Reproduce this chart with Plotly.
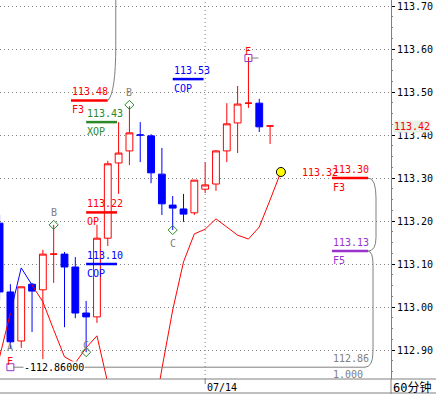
import plotly.graph_objects as go

# ---------------- data ----------------
candle_idx = list(range(26))
opens = [113.195, 113.035, 112.921, 113.053, 113.040, 113.123, 113.123, 113.093, 112.986, 112.977,
         113.160, 113.335, 113.363, 113.400, 113.398, 113.309, 113.237, 113.228, 113.219, 113.274,
         113.286, 113.363, 113.428, 113.474, 113.474, 113.421]
highs = [113.214, 113.053, 113.047, 113.056, 113.133, 113.191, 113.128, 113.116, 113.014, 113.191,
         113.340, 113.430, 113.467, 113.430, 113.402, 113.370, 113.258, 113.263, 113.295, 113.337,
         113.365, 113.474, 113.514, 113.581, 113.484, 113.421]
lows = [113.016, 112.905, 112.905, 112.942, 112.879, 113.056, 112.953, 112.974, 112.895, 112.963,
        113.142, 113.263, 113.330, 113.337, 113.288, 113.214, 113.179, 113.198, 113.214, 113.265,
        113.270, 113.337, 113.358, 113.463, 113.407, 113.379]
closes = [113.035, 112.919, 113.047, 113.037, 113.123, 113.123, 113.093, 112.986, 112.977, 113.160,
          113.333, 113.358, 113.405, 113.400, 113.312, 113.240, 113.230, 113.216, 113.295, 113.284,
          113.363, 113.426, 113.472, 113.474, 113.419, 113.421]
candle_dir = ["dn", "dn", "up", "dn", "up", "up", "dn", "dn", "dn", "up",
              "up", "up", "up", "dn", "dn", "dn", "dn", "dn", "up", "up",
              "up", "up", "up", "up", "dn", "up"]

line_idx = list(range(27))
line_vals = [112.884, 112.986, 113.091, 113.051, 113.012, 112.947, 112.884, 112.870, 112.905, 112.933,
             112.823, 112.760, 112.714, 112.691, 112.709, 112.856, 112.993, 113.105, 113.170, 113.181,
             113.205, 113.186, 113.167, 113.158, 113.186, 113.249, 113.314]
line_blue_from, line_blue_to = 1, 3

level_vals = [113.48, 113.43, 113.53, 113.22, 113.10, 113.30, 113.13]
level_names = ["F3", "XOP", "COP", "OP", "COP", "F3", "F5"]

pivot_names = ["A", "B", "C", "B", "C"]
pivot_idx = [1, 5, 8, 12, 16]
pivot_prices = [112.905, 113.191, 112.895, 113.470, 113.179]

f_idx = [1, 23]
f_prices = [112.86, 113.579]
f_text = "112.86000"

last_price = 113.42
proj_label = "113.32"
base_label = "112.86"
ratio_label = "1.000"
date_label = "07/14"
date_idx = 19
period_label = "60分钟"

y_ticks = [112.90, 113.00, 113.10, 113.20, 113.30, 113.40, 113.50, 113.60, 113.70]

# ---------------- styles / geometry ----------------
RED = "#ff0000"
BLUE = "#0000ff"
GREEN = "#2a8a2a"
PURPLE = "#9933cc"
GREY = "#808080"
FONT = "DejaVu Sans Mono"

PX_X = 10.82   # px per candle
PX_Y = 430.0   # px per price unit


def X(i, px=0.0):
    return i + px / PX_X


def Y(p, px=0.0):
    return p - px / PX_Y   # px > 0 moves down


x_range = [X(1, -10.4), X(1, 391 - 10.4)]
y_range = [Y(113.70, 373), Y(113.70, -6)]

level_style = [
    dict(color=RED, x0=X(6.6), x1=X(10.0)),
    dict(color=GREEN, x0=X(8.0), x1=X(10.85)),
    dict(color=BLUE, x0=X(16.0), x1=X(18.85)),
    dict(color=RED, x0=X(8.0), x1=X(10.85)),
    dict(color=BLUE, x0=X(8.0), x1=X(10.85)),
    dict(color=RED, x0=X(30.72), x1=X(34.05)),
    dict(color=PURPLE, x0=X(30.72), x1=X(34.05)),
]

fig = go.Figure()


def sub(lst, ids):
    return [lst[i] for i in ids]


for d, col, fill in [("up", RED, "white"), ("dn", BLUE, BLUE)]:
    ids = [i for i, v in enumerate(candle_dir) if v == d]
    fig.add_trace(go.Candlestick(
        x=sub(candle_idx, ids), open=sub(opens, ids), high=sub(highs, ids),
        low=sub(lows, ids), close=sub(closes, ids),
        increasing=dict(line=dict(color=col, width=1), fillcolor=fill),
        decreasing=dict(line=dict(color=col, width=1), fillcolor=fill),
        whiskerwidth=0, showlegend=False, hoverinfo="skip"))

# swing line
segs = [(0, line_blue_from, RED), (line_blue_from, line_blue_to, BLUE), (line_blue_to, len(line_vals) - 1, RED)]
for a, b, c in segs:
    fig.add_trace(go.Scatter(x=line_idx[a:b + 1], y=line_vals[a:b + 1], mode="lines",
                             line=dict(color=c, width=1), showlegend=False, hoverinfo="skip"))

# pivot diamonds (skip A)
fig.add_trace(go.Scatter(x=pivot_idx[1:], y=pivot_prices[1:], mode="markers",
                         marker=dict(symbol="diamond-open", size=7, color=GREEN, line=dict(width=1, color=GREEN)),
                         showlegend=False, hoverinfo="skip", cliponaxis=False))
# F squares
fig.add_trace(go.Scatter(x=f_idx, y=f_prices, mode="markers",
                         marker=dict(symbol="square-open", size=7, color=PURPLE, line=dict(width=1, color=PURPLE)),
                         showlegend=False, hoverinfo="skip", cliponaxis=False))
# projection end point
fig.add_trace(go.Scatter(x=[line_idx[-1]], y=[line_vals[-1]], mode="markers",
                         marker=dict(symbol="circle", size=9, color="#ffff00", line=dict(width=1, color="black")),
                         showlegend=False, hoverinfo="skip", cliponaxis=False))

shapes = []
ann = []


def A(**kw):
    base = dict(showarrow=False, font=dict(family=FONT, size=10, color="black"), borderpad=0)
    f = kw.pop("font", None)
    if f:
        base["font"].update(f)
    base.update(kw)
    ann.append(base)


# level underlines + labels
for v, name, st in zip(level_vals, level_names, level_style):
    shapes.append(dict(type="line", xref="x", yref="y", x0=st["x0"], x1=st["x1"], y0=v, y1=v,
                       line=dict(color=st["color"], width=2.5)))
    A(x=st["x0"], y=v, xref="x", yref="y", xanchor="left", yanchor="middle", yshift=9,
      text=f"{v:.2f}", font=dict(color=st["color"]))
    A(x=st["x0"], y=v, xref="x", yref="y", xanchor="left", yanchor="middle", yshift=-9,
      text=name, font=dict(color=st["color"]))

# grey brackets
e0 = level_style[0]["x1"]
v0 = level_vals[0]
shapes.append(dict(type="path", xref="x", yref="y", line=dict(color=GREY, width=1),
                   path=f"M {e0},{v0} Q {X(e0, 8)},{Y(v0, -8)} {X(e0, 8)},{Y(v0, -55)} L {X(e0, 8)},{y_range[1] + 0.01}"))
e5 = level_style[5]["x1"]
v5 = level_vals[5]
v6 = level_vals[6]
vb = f_prices[0]
shapes.append(dict(type="path", xref="x", yref="y", line=dict(color=GREY, width=1),
                   path=(f"M {e5},{v5} Q {X(e5, 8)},{v5} {X(e5, 8)},{Y(v5, 20)} "
                         f"L {X(e5, 8)},{Y(v6, -14)} Q {X(e5, 8)},{v6} {e5},{v6}")))
shapes.append(dict(type="path", xref="x", yref="y", line=dict(color=GREY, width=1),
                   path=(f"M {e5},{v6} Q {X(e5, 5)},{v6} {X(e5, 5)},{Y(v6, 14)} "
                         f"L {X(e5, 5)},{Y(vb, -16)} Q {X(e5, 5)},{vb} {X(e5, -3)},{vb} "
                         f"L {X(f_idx[0], 3)},{vb}")))
# short grey tail on the upper F square
shapes.append(dict(type="line", xref="x", yref="y", x0=X(f_idx[1], 3), x1=X(f_idx[1], 10),
                   y0=f_prices[1], y1=f_prices[1], line=dict(color=GREY, width=1)))

# date separator
shapes.append(dict(type="line", xref="x", yref="y", x0=date_idx, x1=date_idx, y0=y_range[0], y1=y_range[1],
                   line=dict(color=GREY, width=1, dash="1px,3px")))
shapes.append(dict(type="line", xref="x", yref="paper", x0=date_idx, x1=date_idx, y0=0, y1=-5 / 379,
                   line=dict(color=GREY, width=1)))

# frame lines
shapes.append(dict(type="line", xref="paper", yref="paper", x0=0, x1=436 / 391, y0=0, y1=0,
                   line=dict(color=GREY, width=1)))
shapes.append(dict(type="line", xref="paper", yref="paper", x0=0, x1=436 / 391, y0=-14 / 379, y1=-14 / 379,
                   line=dict(color=GREY, width=1)))
shapes.append(dict(type="line", xref="paper", yref="paper", x0=1, x1=1, y0=-15 / 379, y1=0,
                   line=dict(color=GREY, width=1)))

# pivot letters
pivot_shift = [0, 12, 7, 12, -13]
for n, i, p, s in zip(pivot_names, pivot_idx, pivot_prices, pivot_shift):
    A(x=i, y=p, xref="x", yref="y", xanchor="center", yanchor="middle", yshift=s, text=n,
      font=dict(color=GREY))
# F letters
for i, p, s in zip(f_idx, f_prices, [6, 7]):
    A(x=i, y=p, xref="x", yref="y", xanchor="center", yanchor="middle", yshift=s, text="F",
      font=dict(color=RED))
A(x=X(f_idx[0], 12.5), y=f_prices[0], xref="x", yref="y", xanchor="left", yanchor="middle",
  text="-" + f_text, bgcolor="white")

# projection label
A(x=X(line_idx[-1], 20), y=line_vals[-1], xref="x", yref="y", xanchor="left", yanchor="middle",
  yshift=-1, text=proj_label, font=dict(color=RED))
# base level labels
A(x=X(30.72), y=vb, xref="x", yref="y", xanchor="left", yanchor="middle", yshift=9, text=base_label,
  font=dict(color=GREY))
A(x=X(30.72), y=vb, xref="x", yref="y", xanchor="left", yanchor="middle", yshift=-7, text=ratio_label,
  font=dict(color=GREY))

# current price on axis
A(x=1 + 2 / 391, y=last_price, xref="paper", yref="y", xanchor="left", yanchor="middle",
  text=f"{last_price:.2f}", font=dict(color=RED), bgcolor="#e8f0e8")

# bottom strip
A(x=date_idx, y=0, xref="x", yref="paper", xanchor="left", yanchor="middle", xshift=1, yshift=-8,
  text=date_label)
A(x=1 + 1 / 391, y=0, xref="paper", yref="paper", xanchor="left", yanchor="middle", yshift=-8,
  text=period_label, font=dict(family="DejaVu Sans Mono, Noto Sans CJK SC", size=12))

fig.update_layout(
    width=436, height=394,
    margin=dict(l=0, r=45, t=0, b=15, pad=0),
    paper_bgcolor="white", plot_bgcolor="white",
    showlegend=False,
    boxgap=0.1, boxgroupgap=0.3,
    shapes=shapes, annotations=ann,
    xaxis=dict(range=x_range, showgrid=False, zeroline=False, showticklabels=False, ticks="",
               showline=False, rangeslider=dict(visible=False), fixedrange=True),
    yaxis=dict(range=y_range, side="right", tickvals=y_ticks, ticktext=[f"{t:.2f}" for t in y_ticks],
               ticks="outside", ticklen=3, tickcolor="black",
               showline=True, linecolor=GREY, linewidth=1, mirror=False,
               showgrid=True, gridcolor=GREY, gridwidth=1, griddash="1px,3px",
               zeroline=False, automargin=False, fixedrange=True,
               tickfont=dict(family=FONT, size=10, color="black"),
               minor=dict(dtick=0.025, tick0=113.0, ticks="outside", ticklen=1, tickcolor=GREY,
                          showgrid=False)),
)

fig.write_html("out.html", config=dict(displayModeBar=False),
               post_script="document.body.style.margin='0';document.body.style.overflow='hidden';")
